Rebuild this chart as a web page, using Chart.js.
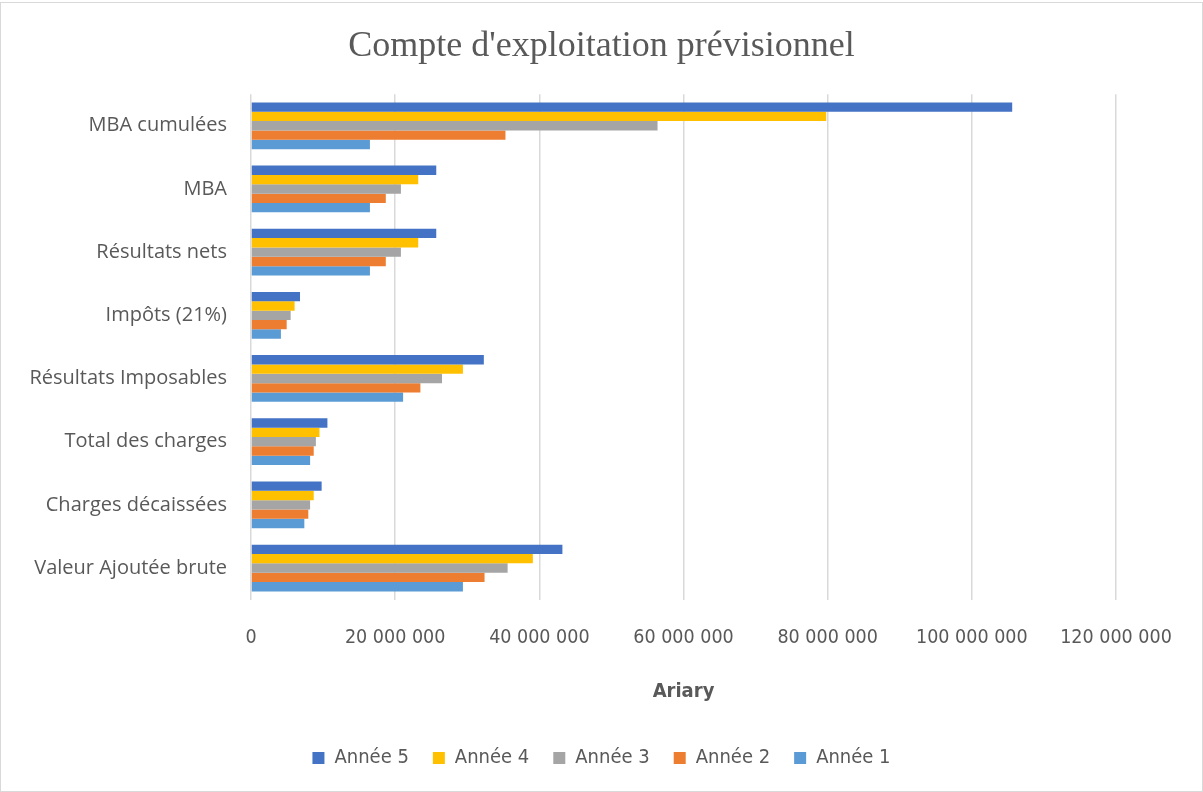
<!DOCTYPE html>
<html>
<head>
<meta charset="utf-8">
<script src="https://cdn.jsdelivr.net/npm/chart.js@4"></script>
<style>
  html, body { margin: 0; padding: 0; background: #fff; }
  #wrap { position: absolute; left: 0; top: 2px; width: 1201px; height: 788px; border: 1px solid #d9d9d9; }
  canvas { display: block; }
</style>
</head>
<body>
<div id="wrap"><canvas id="bar-chart" width="1201" height="788"></canvas></div>
<script>
var categories = ["MBA cumulées", "MBA", "Résultats nets", "Impôts (21%)", "Résultats Imposables", "Total des charges", "Charges décaissées", "Valeur Ajoutée brute"];
var annee5 = [105600000, 25700000, 25700000, 6800000, 32300000, 10600000, 9800000, 43200000];
var annee4 = [79800000, 23200000, 23200000, 6050000, 29400000, 9500000, 8700000, 39100000];
var annee3 = [56400000, 20800000, 20800000, 5500000, 26500000, 9000000, 8200000, 35600000];
var annee2 = [35300000, 18700000, 18700000, 4950000, 23500000, 8700000, 7950000, 32400000];
var annee1 = [16500000, 16500000, 16500000, 4150000, 21100000, 8200000, 7400000, 29400000];
var xTicks = [0, 20000000, 40000000, 60000000, 80000000, 100000000, 120000000];

var grey = "#595959";
var sansFont = "'Liberation Sans Narrow', 'DejaVu Sans Condensed', 'Open Sans', sans-serif";

function spaced(v) {
  return String(v).replace(/\B(?=(\d{3})+(?!\d))/g, " ");
}

function bars(label, data, color) {
  return {
    label: label,
    data: data,
    backgroundColor: color,
    borderWidth: 0,
    categoryPercentage: 0.74,
    barPercentage: 1.0
  };
}

new Chart(document.getElementById("bar-chart"), {
  type: "bar",
  data: {
    labels: categories,
    datasets: [
      bars("Année 5", annee5, "#4472C4"),
      bars("Année 4", annee4, "#FFC000"),
      bars("Année 3", annee3, "#A5A5A5"),
      bars("Année 2", annee2, "#ED7D31"),
      bars("Année 1", annee1, "#5B9BD5")
    ]
  },
  options: {
    indexAxis: "y",
    responsive: false,
    animation: false,
    layout: { padding: { left: 0, right: 0, top: 0, bottom: 13 } },
    plugins: {
      title: {
        display: true,
        text: "Compte d'exploitation prévisionnel",
        color: grey,
        font: { family: "'Liberation Serif', serif", size: 36, weight: "normal" },
        padding: { top: 22, bottom: 26 }
      },
      legend: {
        position: "bottom",
        labels: {
          color: grey,
          font: { family: sansFont, size: 20 },
          boxWidth: 12,
          boxHeight: 12,
          padding: 24
        }
      },
      tooltip: { enabled: false }
    },
    scales: {
      x: {
        min: 0,
        max: 120000000,
        afterBuildTicks: function (axis) {
          axis.ticks = xTicks.map(function (v) { return { value: v }; });
        },
        grid: { color: "#d9d9d9", lineWidth: 1.5, drawTicks: false },
        border: { display: false },
        ticks: {
          color: grey,
          font: { family: sansFont, size: 19.5 },
          padding: 27,
          maxRotation: 0,
          callback: function (v) { return spaced(v); }
        },
        title: {
          display: true,
          text: "Ariary",
          color: grey,
          font: { family: sansFont, size: 20, weight: "bold" },
          padding: { top: 3, bottom: 20 }
        }
      },
      y: {
        grid: { display: false, drawTicks: false },
        border: { display: false },
        ticks: {
          color: grey,
          font: { family: "'Open Sans', sans-serif", size: 20 },
          padding: 24
        },
        afterFit: function (axis) { axis.width = 250; }
      },
      yr: {
        type: "category",
        position: "right",
        grid: { display: false, drawTicks: false },
        border: { display: false },
        ticks: { display: false },
        afterFit: function (axis) { axis.width = 86; }
      }
    }
  }
});
</script>
</body>
</html>
